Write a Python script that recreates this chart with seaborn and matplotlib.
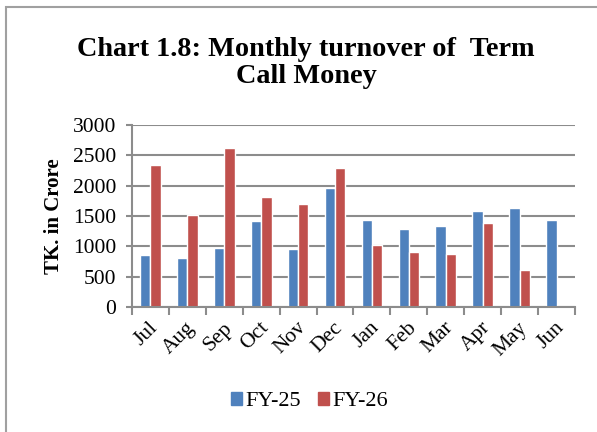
import numpy as np
import pandas as pd
import seaborn as sns
import matplotlib.pyplot as plt
import matplotlib.transforms as mtransforms
from matplotlib.patches import Rectangle

# === DANE ===
months = ["Jul", "Aug", "Sep", "Oct", "Nov", "Dec", "Jan", "Feb", "Mar", "Apr", "May", "Jun"]
fy25 = [850, 810, 975, 1425, 950, 1955, 1430, 1285, 1335, 1585, 1635, 1435]
fy26 = [2340, 1515, 2620, 1815, 1705, 2295, 1020, 900, 875, 1390, 610, np.nan]
series = ["FY-25", "FY-26"]
colors = ["#4F81BD", "#C0504D"]

df = pd.DataFrame({
    "month": months * 2,
    "value": fy25 + fy26,
    "fy": [series[0]] * len(months) + [series[1]] * len(months),
})

sns.set_style("white")
plt.rcParams["font.family"] = ["Liberation Serif", "DejaVu Serif"]
plt.rcParams["text.color"] = "black"
plt.rcParams["axes.labelcolor"] = "black"

fig = plt.figure(figsize=(5.97, 4.32), dpi=100)
ax = fig.add_axes([0.2211, 0.2894, 0.742, 0.4213])

sns.barplot(data=df, x="month", y="value", hue="fy", order=months, hue_order=series,
            palette=colors, width=0.56, saturation=1, ax=ax, legend=False)

# osie i siatka
grid_col = "#8C8C8C"
ax.set_ylim(0, 3000)
ax.set_yticks(range(0, 3001, 500))
ax.set_xlim(-0.5, len(months) - 0.5)
ax.yaxis.grid(True, color=grid_col, linewidth=1.5)
ax.set_axisbelow(True)
for s in ["top", "right"]:
    ax.spines[s].set_visible(False)
for s in ["left", "bottom"]:
    ax.spines[s].set_color(grid_col)
    ax.spines[s].set_linewidth(1.5)

ax.tick_params(axis="y", left=True, length=4.5, width=1.5, color=grid_col, labelsize=15.5, pad=7,
               labelcolor="black")
ax.set_xticks(np.arange(-0.5, len(months), 1), minor=True)
ax.tick_params(axis="x", which="minor", bottom=True, length=6, width=1.5, color=grid_col)
ax.tick_params(axis="x", which="major", length=0, labelsize=15.5, pad=13, labelcolor="black")
ax.set_xticklabels(months, rotation=45)
shift = mtransforms.ScaledTranslation(5 / 100, 0, fig.dpi_scale_trans)
for lbl in ax.get_xticklabels():
    lbl.set_horizontalalignment("right")
    lbl.set_rotation_mode("anchor")
    lbl.set_verticalalignment("center")
    lbl.set_transform(lbl.get_transform() + shift)

ax.set_xlabel("")
ax.set_ylabel("TK. in Crore", fontsize=15, fontweight="bold", labelpad=6)

# tytuł
fig.text(0.513, 0.855, "Chart 1.8: Monthly turnover of  Term\nCall Money", ha="center", va="center",
         fontsize=20.3, fontweight="bold", linespacing=1.12)

# legenda
handles = [plt.Rectangle((0, 0), 1, 1, color=c) for c in colors]
fig.legend(handles, series, loc="center", bbox_to_anchor=(0.518, 0.07), ncol=2, frameon=False,
           fontsize=16, handlelength=0.5, handleheight=0.5, handletextpad=0.15, columnspacing=0.75)

# ramka wykresu
fig.patches.append(Rectangle((6 / 597, -0.1), 1.2, 1 - 7 / 432 + 0.1, transform=fig.transFigure,
                             fill=False, edgecolor="#A0A0A0", linewidth=1.5))

fig.savefig("out.png", dpi=100)
